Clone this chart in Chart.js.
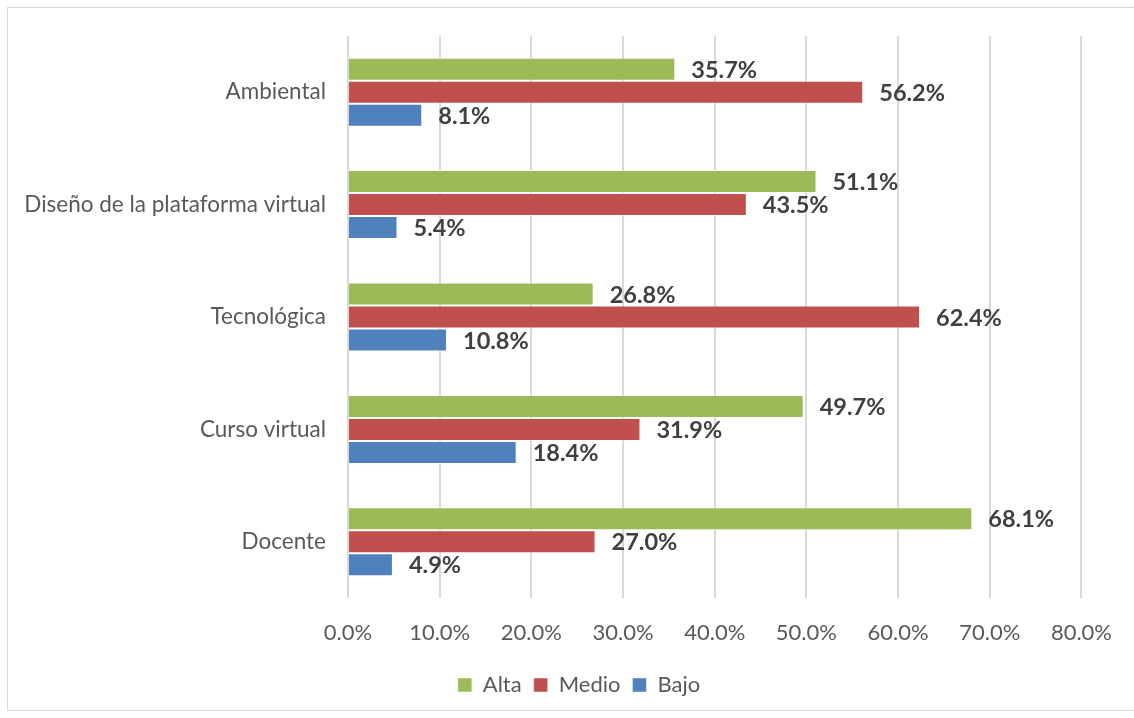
<!DOCTYPE html>
<html>
<head>
<meta charset="utf-8">
<script src="https://cdn.jsdelivr.net/npm/chart.js@4.4.1/dist/chart.umd.min.js"></script>
<style>
  html, body { margin: 0; padding: 0; background: #fff; }
  #wrap { width: 1134px; height: 718px; }
</style>
</head>
<body>
<div id="wrap"><canvas id="chart" width="1134" height="718"></canvas></div>
<script>
// data
const categories = ["Ambiental", "Diseño de la plataforma virtual", "Tecnológica", "Curso virtual", "Docente"];
const alta = [35.7, 51.1, 26.8, 49.7, 68.1];
const medio = [56.2, 43.5, 62.4, 31.9, 27.0];
const bajo = [8.1, 5.4, 10.8, 18.4, 4.9];

const FONT = "Lato, 'Open Sans', sans-serif";

// outer frame like the Excel chart area
const frame = {
    id: "frame",
    beforeDraw(chart) {
        const ctx = chart.ctx;
        ctx.save();
        ctx.strokeStyle = "#d9d9d9";
        ctx.lineWidth = 1;
        ctx.strokeRect(7.5, 7.5, 1140, 703);
        ctx.restore();
    }
};

// legend sits a bit right of the plot centre in the original
const legendShift = {
    id: "legendShift",
    afterLayout(chart) {
        chart.legend.left += 38;
        chart.legend.right += 38;
    }
};

// value labels after bar ends
const valueLabels = {
    id: "valueLabels",
    afterDatasetsDraw(chart) {
        const ctx = chart.ctx;
        ctx.save();
        ctx.font = "bold 23.5px " + FONT;
        ctx.fillStyle = "#404040";
        ctx.textAlign = "left";
        ctx.textBaseline = "middle";
        chart.data.datasets.forEach((ds, i) => {
            chart.getDatasetMeta(i).data.forEach((bar, j) => {
                ctx.fillText(ds.data[j].toFixed(1) + "%", bar.x + 16, bar.y + 1);
            });
        });
        ctx.restore();
    }
};

new Chart(document.getElementById("chart"), {
    type: "bar",
    data: {
        labels: categories,
        datasets: [
            { label: "Alta", data: alta, backgroundColor: "#9BBB59" },
            { label: "Medio", data: medio, backgroundColor: "#C0504D" },
            { label: "Bajo", data: bajo, backgroundColor: "#4F81BD" }
        ]
    },
    options: {
        indexAxis: "y",
        responsive: false,
        animation: false,
        datasets: {
            bar: {
                categoryPercentage: 0.614,
                barPercentage: 1,
                borderColor: "rgba(255,255,255,0.45)",
                borderWidth: 1
            }
        },
        layout: { padding: { top: 36, right: 52, bottom: 12, left: 0 } },
        scales: {
            x: {
                min: 0,
                max: 80,
                ticks: {
                    stepSize: 10,
                    padding: 22,
                    color: "#595959",
                    font: { family: FONT, size: 22 },
                    callback: v => v.toFixed(1) + "%"
                },
                grid: { color: "#d9d9d9", lineWidth: 2, drawTicks: false },
                border: { display: false },
                afterFit: s => { s.height = 64; }
            },
            y: {
                ticks: {
                    padding: 22,
                    color: "#595959",
                    font: { family: FONT, size: 22.5 }
                },
                grid: { display: false, drawTicks: false },
                border: { display: false },
                afterFit: s => { s.width = 348; }
            }
        },
        plugins: {
            legend: {
                position: "bottom",
                labels: {
                    boxWidth: 14,
                    boxHeight: 14,
                    padding: 12,
                    color: "#595959",
                    font: { family: FONT, size: 22 }
                }
            },
            tooltip: { enabled: false }
        }
    },
    plugins: [frame, legendShift, valueLabels]
});
</script>
</body>
</html>
